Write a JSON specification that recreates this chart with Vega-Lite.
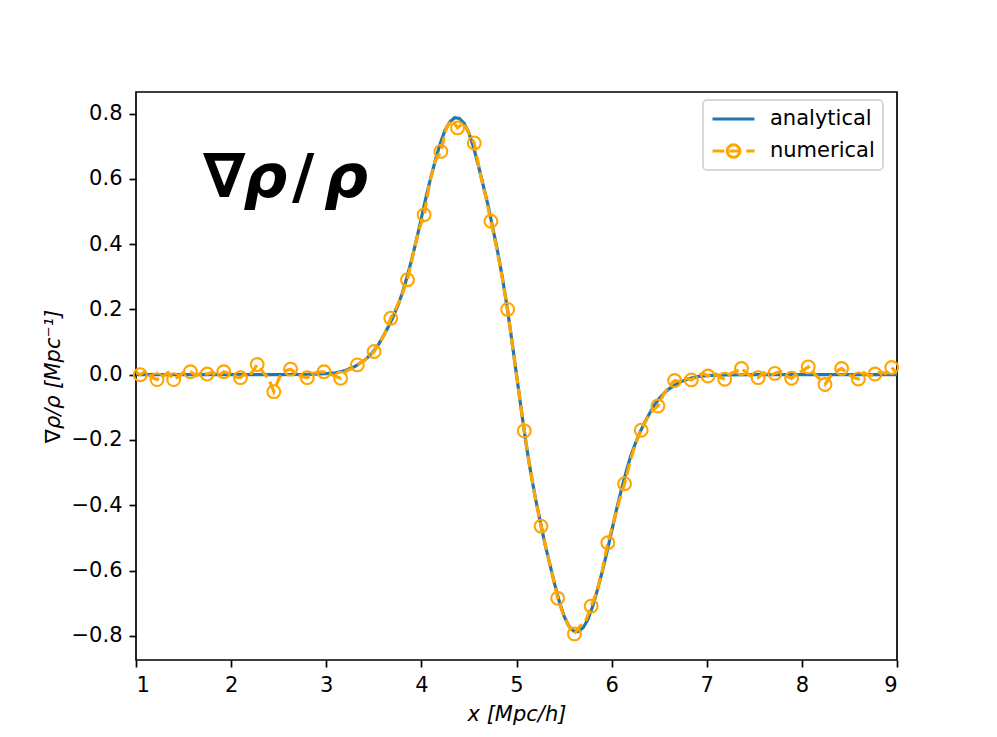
{
  "$schema": "https://vega.github.io/schema/vega-lite/v6.json",
  "autosize": "none",
  "width": 761,
  "height": 568,
  "padding": {"left": 136, "top": 92, "right": 100, "bottom": 77},
  "background": "white",
  "config": {
    "view": {"stroke": "black", "strokeWidth": 1.7},
    "font": "DejaVu Sans",
    "axis": {
      "labelFont": "DejaVu Sans", "labelFontSize": 21, "labelColor": "black",
      "titleFont": "DejaVu Sans", "titleFontSize": 21, "titleColor": "black", "titleFontWeight": "normal",
      "tickColor": "black", "tickWidth": 1.7, "tickSize": 7, "labelPadding": 7,
      "domain": false, "grid": false, "titlePadding": 8
    }
  },
  "datasets": {
    "analytical": [
      {"x": 1.0, "y": 0}, {"x": 1.5, "y": 0}, {"x": 2.0, "y": 0}, {"x": 2.5, "y": 0},
      {"x": 2.8, "y": 0.001}, {"x": 3.0, "y": 0.003}, {"x": 3.1, "y": 0.006}, {"x": 3.2, "y": 0.013},
      {"x": 3.3, "y": 0.025}, {"x": 3.4, "y": 0.044}, {"x": 3.45, "y": 0.057}, {"x": 3.5, "y": 0.073},
      {"x": 3.55, "y": 0.093}, {"x": 3.6, "y": 0.118}, {"x": 3.65, "y": 0.145}, {"x": 3.7, "y": 0.175},
      {"x": 3.75, "y": 0.21}, {"x": 3.8, "y": 0.25}, {"x": 3.85, "y": 0.30}, {"x": 3.9, "y": 0.355},
      {"x": 3.95, "y": 0.415}, {"x": 4.0, "y": 0.48}, {"x": 4.05, "y": 0.545}, {"x": 4.1, "y": 0.605},
      {"x": 4.15, "y": 0.66}, {"x": 4.2, "y": 0.71}, {"x": 4.25, "y": 0.75}, {"x": 4.3, "y": 0.775},
      {"x": 4.35, "y": 0.787}, {"x": 4.4, "y": 0.785}, {"x": 4.45, "y": 0.77}, {"x": 4.5, "y": 0.74},
      {"x": 4.55, "y": 0.695}, {"x": 4.6, "y": 0.64}, {"x": 4.65, "y": 0.58}, {"x": 4.7, "y": 0.52},
      {"x": 4.75, "y": 0.45}, {"x": 4.8, "y": 0.38}, {"x": 4.85, "y": 0.30}, {"x": 4.9, "y": 0.21},
      {"x": 4.95, "y": 0.107}, {"x": 5.0, "y": 0}, {"x": 5.05, "y": -0.107}, {"x": 5.1, "y": -0.21},
      {"x": 5.15, "y": -0.30}, {"x": 5.2, "y": -0.38}, {"x": 5.25, "y": -0.45}, {"x": 5.3, "y": -0.52},
      {"x": 5.35, "y": -0.58}, {"x": 5.4, "y": -0.64}, {"x": 5.45, "y": -0.695}, {"x": 5.5, "y": -0.74},
      {"x": 5.55, "y": -0.77}, {"x": 5.6, "y": -0.785}, {"x": 5.65, "y": -0.787}, {"x": 5.7, "y": -0.775},
      {"x": 5.75, "y": -0.75}, {"x": 5.8, "y": -0.71}, {"x": 5.85, "y": -0.66}, {"x": 5.9, "y": -0.605},
      {"x": 5.95, "y": -0.545}, {"x": 6.0, "y": -0.48}, {"x": 6.05, "y": -0.415}, {"x": 6.1, "y": -0.355},
      {"x": 6.15, "y": -0.30}, {"x": 6.2, "y": -0.25}, {"x": 6.25, "y": -0.21}, {"x": 6.3, "y": -0.175},
      {"x": 6.35, "y": -0.145}, {"x": 6.4, "y": -0.118}, {"x": 6.45, "y": -0.093}, {"x": 6.5, "y": -0.073},
      {"x": 6.55, "y": -0.057}, {"x": 6.6, "y": -0.044}, {"x": 6.7, "y": -0.025}, {"x": 6.8, "y": -0.013},
      {"x": 6.9, "y": -0.006}, {"x": 7.0, "y": -0.003}, {"x": 7.2, "y": -0.001}, {"x": 7.5, "y": 0},
      {"x": 8.0, "y": 0}, {"x": 8.5, "y": 0}, {"x": 9.0, "y": 0}
    ],
    "numerical": [
      {"x": 1.0, "y": 0.008, "m": 0},
      {"x": 1.045, "y": 0.0, "m": 1}, {"x": 1.104, "y": 0.012, "m": 0}, {"x": 1.162, "y": -0.008, "m": 0},
      {"x": 1.221, "y": -0.015, "m": 1}, {"x": 1.280, "y": -0.005, "m": 0}, {"x": 1.338, "y": 0.006, "m": 0},
      {"x": 1.396, "y": -0.015, "m": 1}, {"x": 1.455, "y": -0.004, "m": 0}, {"x": 1.513, "y": 0.010, "m": 0},
      {"x": 1.572, "y": 0.009, "m": 1}, {"x": 1.631, "y": -0.003, "m": 0}, {"x": 1.689, "y": 0.006, "m": 0},
      {"x": 1.747, "y": 0.002, "m": 1}, {"x": 1.806, "y": 0.008, "m": 0}, {"x": 1.864, "y": -0.004, "m": 0},
      {"x": 1.923, "y": 0.009, "m": 1}, {"x": 1.982, "y": 0.004, "m": 0}, {"x": 2.040, "y": -0.006, "m": 0},
      {"x": 2.098, "y": -0.009, "m": 1}, {"x": 2.157, "y": 0.006, "m": 0}, {"x": 2.215, "y": 0.004, "m": 0},
      {"x": 2.274, "y": 0.031, "m": 1}, {"x": 2.333, "y": 0.008, "m": 0}, {"x": 2.391, "y": -0.010, "m": 0},
      {"x": 2.449, "y": -0.052, "m": 1}, {"x": 2.508, "y": -0.008, "m": 0}, {"x": 2.566, "y": 0.012, "m": 0},
      {"x": 2.625, "y": 0.017, "m": 1}, {"x": 2.684, "y": 0.004, "m": 0}, {"x": 2.742, "y": -0.006, "m": 0},
      {"x": 2.800, "y": -0.009, "m": 1}, {"x": 2.859, "y": 0.004, "m": 0}, {"x": 2.917, "y": 0.008, "m": 0},
      {"x": 2.976, "y": 0.009, "m": 1}, {"x": 3.035, "y": 0.002, "m": 0}, {"x": 3.093, "y": -0.004, "m": 0},
      {"x": 3.151, "y": -0.011, "m": 1}, {"x": 3.210, "y": 0.012, "m": 0}, {"x": 3.268, "y": 0.018, "m": 0},
      {"x": 3.327, "y": 0.030, "m": 1}, {"x": 3.386, "y": 0.040, "m": 0}, {"x": 3.444, "y": 0.055, "m": 0},
      {"x": 3.503, "y": 0.071, "m": 1}, {"x": 3.562, "y": 0.098, "m": 0}, {"x": 3.620, "y": 0.128, "m": 0},
      {"x": 3.678, "y": 0.173, "m": 1}, {"x": 3.737, "y": 0.205, "m": 0}, {"x": 3.795, "y": 0.245, "m": 0},
      {"x": 3.854, "y": 0.291, "m": 1}, {"x": 3.913, "y": 0.370, "m": 0}, {"x": 3.971, "y": 0.440, "m": 0},
      {"x": 4.029, "y": 0.490, "m": 1}, {"x": 4.088, "y": 0.590, "m": 0}, {"x": 4.146, "y": 0.655, "m": 0},
      {"x": 4.205, "y": 0.684, "m": 1}, {"x": 4.264, "y": 0.758, "m": 0}, {"x": 4.322, "y": 0.780, "m": 0},
      {"x": 4.380, "y": 0.756, "m": 1}, {"x": 4.439, "y": 0.772, "m": 0}, {"x": 4.497, "y": 0.742, "m": 0},
      {"x": 4.556, "y": 0.710, "m": 1}, {"x": 4.615, "y": 0.620, "m": 0}, {"x": 4.673, "y": 0.550, "m": 0},
      {"x": 4.731, "y": 0.470, "m": 1}, {"x": 4.790, "y": 0.390, "m": 0}, {"x": 4.848, "y": 0.300, "m": 0},
      {"x": 4.907, "y": 0.200, "m": 1}, {"x": 4.966, "y": 0.070, "m": 0}, {"x": 5.024, "y": -0.050, "m": 0},
      {"x": 5.082, "y": -0.172, "m": 1}, {"x": 5.141, "y": -0.285, "m": 0}, {"x": 5.199, "y": -0.380, "m": 0},
      {"x": 5.258, "y": -0.464, "m": 1}, {"x": 5.317, "y": -0.540, "m": 0}, {"x": 5.375, "y": -0.610, "m": 0},
      {"x": 5.433, "y": -0.685, "m": 1}, {"x": 5.492, "y": -0.735, "m": 0}, {"x": 5.550, "y": -0.770, "m": 0},
      {"x": 5.609, "y": -0.794, "m": 1}, {"x": 5.668, "y": -0.770, "m": 0}, {"x": 5.726, "y": -0.755, "m": 0},
      {"x": 5.785, "y": -0.709, "m": 1}, {"x": 5.844, "y": -0.665, "m": 0}, {"x": 5.902, "y": -0.600, "m": 0},
      {"x": 5.960, "y": -0.515, "m": 1}, {"x": 6.019, "y": -0.455, "m": 0}, {"x": 6.077, "y": -0.390, "m": 0},
      {"x": 6.136, "y": -0.334, "m": 1}, {"x": 6.195, "y": -0.265, "m": 0}, {"x": 6.253, "y": -0.210, "m": 0},
      {"x": 6.311, "y": -0.170, "m": 1}, {"x": 6.370, "y": -0.135, "m": 0}, {"x": 6.428, "y": -0.110, "m": 0},
      {"x": 6.487, "y": -0.096, "m": 1}, {"x": 6.546, "y": -0.060, "m": 0}, {"x": 6.604, "y": -0.035, "m": 0},
      {"x": 6.662, "y": -0.018, "m": 1}, {"x": 6.721, "y": -0.020, "m": 0}, {"x": 6.779, "y": -0.010, "m": 0},
      {"x": 6.838, "y": -0.016, "m": 1}, {"x": 6.897, "y": -0.006, "m": 0}, {"x": 6.955, "y": 0.004, "m": 0},
      {"x": 7.013, "y": -0.004, "m": 1}, {"x": 7.072, "y": 0.006, "m": 0}, {"x": 7.130, "y": -0.006, "m": 0},
      {"x": 7.189, "y": -0.014, "m": 1}, {"x": 7.248, "y": 0.003, "m": 0}, {"x": 7.306, "y": 0.010, "m": 0},
      {"x": 7.365, "y": 0.019, "m": 1}, {"x": 7.424, "y": 0.004, "m": 0}, {"x": 7.482, "y": -0.008, "m": 0},
      {"x": 7.540, "y": -0.009, "m": 1}, {"x": 7.599, "y": 0.006, "m": 0}, {"x": 7.657, "y": -0.004, "m": 0},
      {"x": 7.716, "y": 0.004, "m": 1}, {"x": 7.775, "y": 0.010, "m": 0}, {"x": 7.833, "y": -0.004, "m": 0},
      {"x": 7.892, "y": -0.011, "m": 1}, {"x": 7.951, "y": 0.004, "m": 0}, {"x": 8.009, "y": 0.012, "m": 0},
      {"x": 8.067, "y": 0.024, "m": 1}, {"x": 8.126, "y": 0.004, "m": 0}, {"x": 8.184, "y": -0.012, "m": 0},
      {"x": 8.243, "y": -0.030, "m": 1}, {"x": 8.302, "y": -0.004, "m": 0}, {"x": 8.360, "y": 0.010, "m": 0},
      {"x": 8.418, "y": 0.019, "m": 1}, {"x": 8.477, "y": 0.004, "m": 0}, {"x": 8.535, "y": -0.008, "m": 0},
      {"x": 8.594, "y": -0.013, "m": 1}, {"x": 8.653, "y": 0.006, "m": 0}, {"x": 8.711, "y": -0.004, "m": 0},
      {"x": 8.769, "y": 0.002, "m": 1}, {"x": 8.828, "y": 0.008, "m": 0}, {"x": 8.886, "y": 0.004, "m": 0},
      {"x": 8.945, "y": 0.022, "m": 1}, {"x": 9.0, "y": 0.004, "m": 0}
    ],
    "annotation": [
      {"label": "∇ρ/ρ"}
    ]
  },
  "layer": [
    {
      "data": {"name": "analytical"},
      "mark": {"type": "line", "strokeWidth": 3.2, "clip": true},
      "encoding": {
        "x": {
          "field": "x", "type": "quantitative",
          "scale": {"domain": [1, 9], "nice": false, "zero": false},
          "axis": {"values": [1, 2, 3, 4, 5, 6, 7, 8, 9], "format": "d", "title": "x [Mpc/h]", "titleFontStyle": "italic"}
        },
        "y": {
          "field": "y", "type": "quantitative",
          "scale": {"domain": [-0.874, 0.866], "nice": false, "zero": false},
          "axis": {"values": [-0.8, -0.6, -0.4, -0.2, 0, 0.2, 0.4, 0.6, 0.8], "labelExpr": "replace(format(datum.value, '.1f'), '-', '\u2212')", "title": "∇ρ/ρ [Mpc⁻¹]", "titleFontStyle": "italic"}
        },
        "color": {
          "datum": "analytical", "type": "nominal",
          "scale": {"domain": ["analytical", "numerical"], "range": ["#1f77b4", "#FFA500"]},
          "legend": {
            "title": null, "orient": "none", "legendX": 567, "legendY": 8,
            "padding": 8, "rowPadding": 10, "clipHeight": 22, "labelOffset": 14,
            "symbolSize": 1764, "symbolStrokeWidth": 3, "labelFont": "DejaVu Sans", "labelFontSize": 21,
            "labelColor": "black", "labelLimit": 300,
            "strokeColor": "#cccccc", "fillColor": "rgba(255,255,255,0.8)", "cornerRadius": 4,
            "encode": {
              "symbols": {
                "update": {
                  "shape": {"signal": "datum.value === 'numerical' ? 'M-1,0H-0.44M-0.2,0H0.37M0.61,0H1M0.3,0A0.3,0.3,0,1,1,-0.3,0A0.3,0.3,0,1,1,0.3,0' : 'M-1,0H1'"},
                  "fill": {"value": "transparent"}
                }
              },
              "legend": {"update": {"strokeWidth": {"value": 1.5}}}
            }
          }
        }
      }
    },
    {
      "data": {"name": "numerical"},
      "mark": {"type": "line", "strokeWidth": 3.2, "strokeDash": [11.8, 5.1], "clip": true},
      "encoding": {
        "x": {"field": "x", "type": "quantitative"},
        "y": {"field": "y", "type": "quantitative"},
        "color": {"datum": "numerical", "type": "nominal"}
      }
    },
    {
      "data": {"name": "numerical"},
      "transform": [{"filter": "datum.m == 1"}],
      "mark": {"type": "point", "shape": "circle", "filled": false, "stroke": "#FFA500", "strokeWidth": 2.1, "size": 164, "opacity": 1},
      "encoding": {
        "x": {"field": "x", "type": "quantitative"},
        "y": {"field": "y", "type": "quantitative"}
      }
    },
    {
      "data": {"name": "annotation"},
      "mark": {"type": "text", "text": "∇", "font": "DejaVu Sans", "fontWeight": "bold", "fontSize": 61, "align": "left", "baseline": "alphabetic", "color": "black"},
      "encoding": {"x": {"datum": 1.705, "type": "quantitative"}, "y": {"datum": 0.544, "type": "quantitative"}}
    },
    {
      "data": {"name": "annotation"},
      "mark": {"type": "text", "text": "ρ", "font": "DejaVu Sans", "fontWeight": "bold", "fontStyle": "italic", "fontSize": 61, "align": "left", "baseline": "alphabetic", "color": "black"},
      "encoding": {"x": {"datum": 2.13, "type": "quantitative"}, "y": {"datum": 0.544, "type": "quantitative"}}
    },
    {
      "data": {"name": "annotation"},
      "mark": {"type": "text", "text": "/", "font": "DejaVu Sans", "fontWeight": "bold", "fontSize": 61, "align": "left", "baseline": "alphabetic", "color": "black"},
      "encoding": {"x": {"datum": 2.64, "type": "quantitative"}, "y": {"datum": 0.544, "type": "quantitative"}}
    },
    {
      "data": {"name": "annotation"},
      "mark": {"type": "text", "text": "ρ", "font": "DejaVu Sans", "fontWeight": "bold", "fontStyle": "italic", "fontSize": 61, "align": "left", "baseline": "alphabetic", "color": "black"},
      "encoding": {"x": {"datum": 2.98, "type": "quantitative"}, "y": {"datum": 0.544, "type": "quantitative"}}
    }
  ]
}
